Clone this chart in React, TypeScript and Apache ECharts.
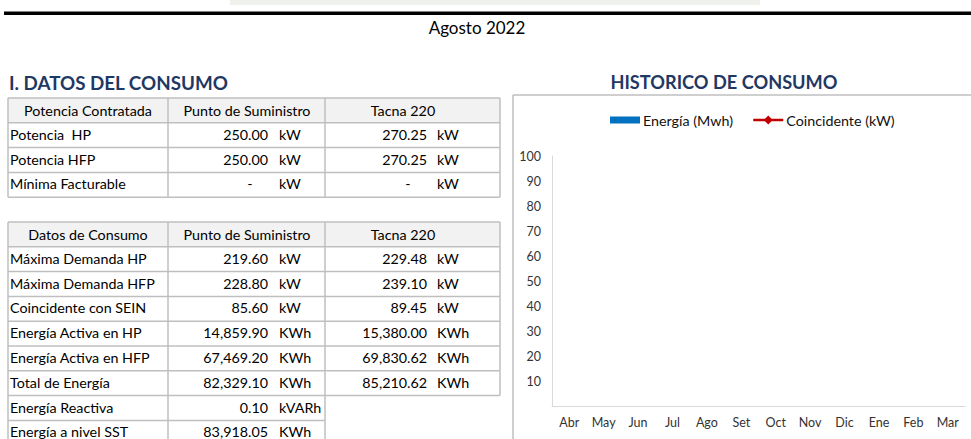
import React, { useEffect, useRef } from "react";
import * as echarts from "echarts";

// ---------- DATA ----------
const reportTitle = "Agosto 2022";
const sectionTitle = "I. DATOS DEL CONSUMO";
const chartTitle = "HISTORICO DE CONSUMO";

const potenciaHeaders = ["Potencia Contratada", "Punto de Suministro", "Tacna 220"];
const potenciaLabels = ["Potencia  HP", "Potencia HFP", "Mínima Facturable"];
const potenciaSuministro = ["250.00", "250.00", "-"];
const potenciaSuministroUnits = ["kW", "kW", "kW"];
const potenciaTacna = ["270.25", "270.25", "-"];
const potenciaTacnaUnits = ["kW", "kW", "kW"];

const consumoHeaders = ["Datos de Consumo", "Punto de Suministro", "Tacna 220"];
const consumoLabels = [
  "Máxima Demanda HP",
  "Máxima Demanda HFP",
  "Coincidente con SEIN",
  "Energía Activa en HP",
  "Energía Activa en HFP",
  "Total de Energía",
  "Energía Reactiva",
  "Energía a nivel SST",
];
const consumoSuministro = ["219.60", "228.80", "85.60", "14,859.90", "67,469.20", "82,329.10", "0.10", "83,918.05"];
const consumoSuministroUnits = ["kW", "kW", "kW", "KWh", "KWh", "KWh", "kVARh", "KWh"];
const consumoTacna = ["229.48", "239.10", "89.45", "15,380.00", "69,830.62", "85,210.62"];
const consumoTacnaUnits = ["kW", "kW", "kW", "KWh", "KWh", "KWh"];

const months = ["Abr", "May", "Jun", "Jul", "Ago", "Set", "Oct", "Nov", "Dic", "Ene", "Feb", "Mar"];
const energiaMwh: (number | null)[] = [null, null, null, null, null, null, null, null, null, null, null, null];
const coincidenteKw: (number | null)[] = [null, null, null, null, null, null, null, null, null, null, null, null];
const seriesNames = ["Energía (Mwh)", "Coincidente (kW)"];

// ---------- STYLE ----------
const FONT = 'Lato, "Open Sans", sans-serif';
const BORDER = "#bfbfbf";
const HEAD_FILL = "#f2f2f2";
const NAVY = "#1f3864";
const BLUE = "#0070c0";
const RED = "#c00000";

const COLS = [8, 168, 325, 500];
const HEADER_CX = [88, 247, 403];
const ROW_H = 24.8;
const TEXT_OFF = 11.5;
const LABEL_X = 10;
const V2_RIGHT = 268;
const U2_LEFT = 279;
const V3_RIGHT = 427;
const U3_LEFT = 437;
const DASH2 = 250;
const DASH3 = 408;
const CELL_FONT = `14.3px ${FONT}`;

const barLegendIcon =
  "image://data:image/svg+xml;utf8," +
  encodeURIComponent(
    `<svg xmlns="http://www.w3.org/2000/svg" width="30" height="11" viewBox="0 0 30 11"><rect x="0" y="2" width="30" height="7" fill="${BLUE}"/></svg>`
  );

function txt(text: string, x: number, y: number, opts: any = {}) {
  return {
    type: "text",
    silent: true,
    style: {
      text,
      x,
      y,
      fill: opts.fill || "#000",
      font: opts.font || CELL_FONT,
      textAlign: opts.align || "left",
      textVerticalAlign: "middle",
    },
  };
}
function hline(x1: number, x2: number, y: number) {
  return { type: "line", silent: true, shape: { x1, y1: y, x2, y2: y }, style: { stroke: BORDER, lineWidth: 1.5 } };
}
function vline(x: number, y1: number, y2: number) {
  return { type: "line", silent: true, shape: { x1: x, y1, x2: x, y2 }, style: { stroke: BORDER, lineWidth: 1.5 } };
}

function buildTable(
  top: number,
  headers: string[],
  labels: string[],
  v2: string[],
  u2: string[],
  v3: string[],
  u3: string[]
) {
  const els: any[] = [];
  els.push({ type: "rect", silent: true, shape: { x: COLS[0], y: top, width: COLS[3] - COLS[0], height: ROW_H }, style: { fill: HEAD_FILL } });
  headers.forEach((h, i) => {
    els.push(txt(h, HEADER_CX[i], top + TEXT_OFF + 0.5, { align: "center" }));
  });
  els.push(hline(COLS[0], COLS[3], top));
  els.push(hline(COLS[0], COLS[3], top + ROW_H));
  const n = labels.length;
  const n3 = v3.length;
  for (let r = 0; r < n; r++) {
    const y0 = top + ROW_H * (r + 1);
    const cy = y0 + TEXT_OFF;
    els.push(txt(labels[r], LABEL_X, cy));
    if (v2[r] === "-") els.push(txt("-", DASH2, cy, { align: "center" }));
    else els.push(txt(v2[r], V2_RIGHT, cy, { align: "right" }));
    els.push(txt(u2[r], U2_LEFT, cy));
    if (r < n3) {
      if (v3[r] === "-") els.push(txt("-", DASH3, cy, { align: "center" }));
      else els.push(txt(v3[r], V3_RIGHT, cy, { align: "right" }));
      els.push(txt(u3[r], U3_LEFT, cy));
    }
    els.push(hline(COLS[0], r < n3 ? COLS[3] : COLS[2], y0 + ROW_H));
  }
  const bottom = top + ROW_H * (n + 1);
  const bottom3 = top + ROW_H * (n3 + 1);
  els.push(vline(COLS[0], top, bottom));
  els.push(vline(COLS[1], top, bottom));
  els.push(vline(COLS[2], top, bottom));
  els.push(vline(COLS[3], top, bottom3));
  return els;
}

export default function App() {
  const ref = useRef<HTMLDivElement>(null);
  useEffect(() => {
    if (!ref.current) return;
    const chart = echarts.init(ref.current, undefined, { renderer: "svg" });
    const graphics: any[] = [
      { type: "rect", silent: true, shape: { x: 230, y: 0, width: 530, height: 5 }, style: { fill: "#eef1ec" } },
      { type: "rect", silent: true, shape: { x: 4, y: 11.5, width: 967, height: 3.5 }, style: { fill: "#000" } },
      txt(reportTitle, 477, 27, { font: `17px ${FONT}`, align: "center" }),
      txt(sectionTitle, 9, 82, { font: `bold 18.8px ${FONT}`, fill: NAVY }),
      txt(chartTitle, 724, 82, { font: `bold 18.2px ${FONT}`, fill: NAVY, align: "center" }),
      hline(513, 971, 95),
      vline(513, 95, 439),
      ...buildTable(98, potenciaHeaders, potenciaLabels, potenciaSuministro, potenciaSuministroUnits, potenciaTacna, potenciaTacnaUnits),
      ...buildTable(222, consumoHeaders, consumoLabels, consumoSuministro, consumoSuministroUnits, consumoTacna, consumoTacnaUnits),
    ];
    chart.setOption({
      animation: false,
      backgroundColor: "#fff",
      textStyle: { fontFamily: FONT },
      legend: {
        left: 605,
        top: 108,
        itemWidth: 30,
        itemHeight: 11,
        itemGap: 19,
        lineStyle: { width: 2.5 },
        textStyle: { fontSize: 14.3, color: "#111", fontFamily: FONT, padding: [0, 0, 0, -2] },
        data: [
          { name: seriesNames[0], icon: barLegendIcon },
          { name: seriesNames[1] },
        ],
      },
      grid: { left: 552, top: 156, width: 413, height: 250 },
      xAxis: {
        type: "category",
        data: months,
        axisLine: { lineStyle: { color: "#d9d9d9", width: 1 } },
        axisTick: { show: false },
        axisLabel: { color: "#333", fontSize: 12.5, margin: 10, fontFamily: FONT },
      },
      yAxis: {
        type: "value",
        min: 0,
        max: 100,
        interval: 10,
        splitLine: { show: false },
        axisLine: { show: true, lineStyle: { color: "#d9d9d9", width: 1 } },
        axisTick: { show: false },
        axisLabel: {
          color: "#333",
          fontSize: 12.5,
          margin: 11,
          fontFamily: FONT,
          formatter: (v: number) => (v === 0 ? "" : String(v)),
        },
      },
      series: [
        { name: seriesNames[0], type: "bar", data: energiaMwh, itemStyle: { color: BLUE } },
        {
          name: seriesNames[1],
          type: "line",
          data: coincidenteKw,
          symbol: "diamond",
          symbolSize: 9,
          itemStyle: { color: RED },
          lineStyle: { color: RED, width: 2.5 },
        },
      ],
      graphic: graphics,
    });
    return () => chart.dispose();
  }, []);
  return (
    <div
      ref={ref}
      style={{ position: "fixed", left: 0, top: 0, width: 971, height: 439, background: "#fff" }}
    />
  );
}
